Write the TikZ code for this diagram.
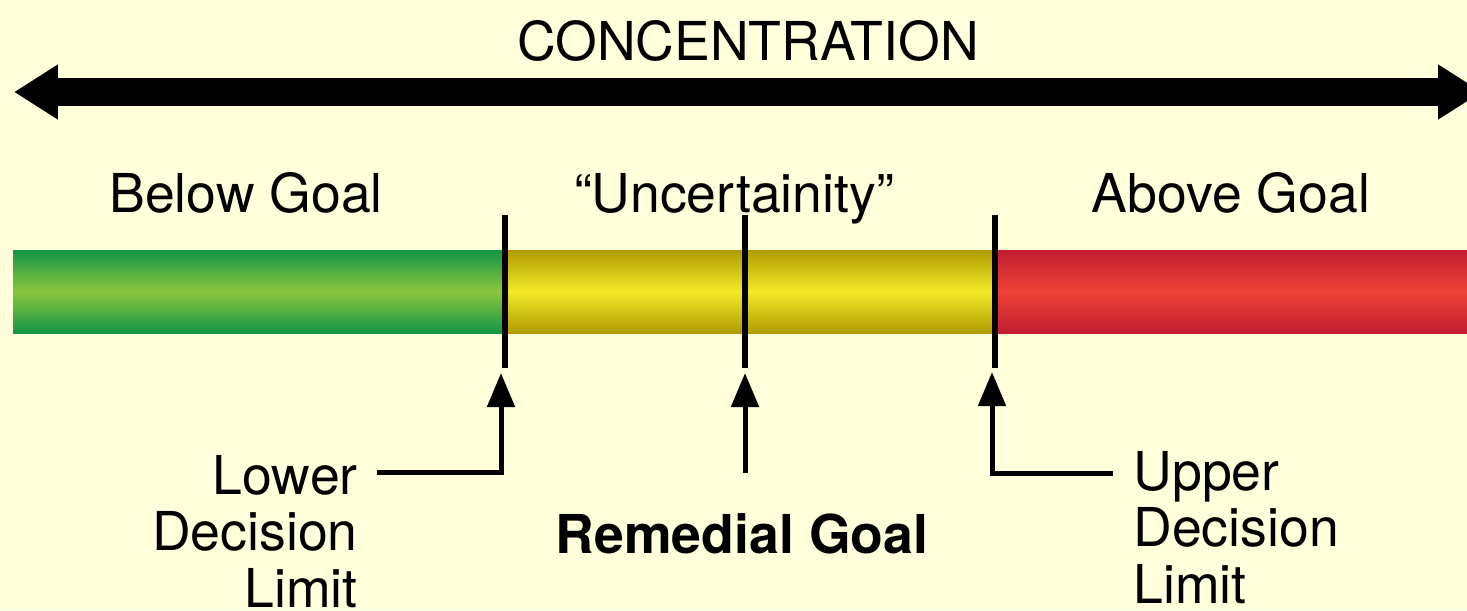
\documentclass[tikz,border=0pt]{standalone}
\usepackage{fontspec}
\setmainfont{TeX Gyre Heros}
\usetikzlibrary{arrows.meta}
\definecolor{ConcBack}{RGB}{255,255,220}
\definecolor{ConcGreenDark}{RGB}{18,150,70}
\definecolor{ConcGreenLight}{RGB}{140,198,63}
\definecolor{ConcYellowDark}{RGB}{176,156,0}
\definecolor{ConcYellowLight}{RGB}{242,234,42}
\definecolor{ConcRedDark}{RGB}{192,30,48}
\definecolor{ConcRedLight}{RGB}{239,65,54}
\tikzset{
  conc/label/.style={
    font=\fontsize{30.5}{31.9}\selectfont,
    inner sep=0pt,
    text=black
  },
  conc/boldlabel/.style={
    conc/label,
    font=\fontsize{30.5}{31.9}\selectfont\bfseries
  },
  conc/axis/.style={{Triangle[length=0.88cm,width=1.04cm]}-{Triangle[length=0.88cm,width=1.04cm]}, line width=0.56cm},
  conc/tick/.style={line width=0.12cm},
  conc/pointer/.style={-{Triangle[length=0.68cm,width=0.54cm]}, line width=0.1cm}
}

\begin{document}
\begin{tikzpicture}[x=0.02cm,y=-0.02cm]
  \fill[ConcBack] (0,0) rectangle (1467,610);
  \useasboundingbox (0,0) rectangle (1467,610);

  % concentration axis
  \node[conc/label,anchor=base] (title) at (748,60) {CONCENTRATION};
  \coordinate (axislow) at (14,92);
  \coordinate (axishigh) at (1482,92);
  \draw[conc/axis] (axislow) -- (axishigh);

  % zone labels
  \node[conc/label,anchor=base] (below) at (246,212) {Below Goal};
  \node[conc/label,anchor=base] (uncert) at (734,212) {“Uncertainity”};
  \node[conc/label,anchor=base] (above) at (1231,212) {Above Goal};

  % coloured bar
  \shade[top color=ConcGreenDark,bottom color=ConcGreenDark,middle color=ConcGreenLight] (13,250) rectangle (504,333);
  \shade[top color=ConcYellowDark,bottom color=ConcYellowDark,middle color=ConcYellowLight] (504,250) rectangle (996,333);
  \shade[top color=ConcRedDark,bottom color=ConcRedDark,middle color=ConcRedLight] (996,250) rectangle (1470,333);

  % limits
  \draw[conc/tick] (505,215) -- (505,368);
  \draw[conc/tick] (745,215) -- (745,368);
  \draw[conc/tick] (995,215) -- (995,368);

  \node[conc/label,anchor=base east,align=right] (lower) at (358,607) {Lower\\Decision\\Limit};
  \node[conc/boldlabel,anchor=base] (remedial) at (742,553) {Remedial Goal};
  \node[conc/label,anchor=base west,align=left] (upper) at (1133,603) {Upper\\Decision\\Limit};

  \coordinate (lowstart) at (377,472);
  \coordinate (lowbend) at (501,472);
  \coordinate (lowtip) at (501,373);
  \coordinate (midstart) at (745,473);
  \coordinate (midtip) at (745,373);
  \coordinate (upstart) at (1113,473);
  \coordinate (upbend) at (992,473);
  \coordinate (uptip) at (992,372);
  \draw[conc/pointer] (lowstart) -- (lowbend) -- (lowtip);
  \draw[conc/pointer] (midstart) -- (midtip);
  \draw[conc/pointer] (upstart) -- (upbend) -- (uptip);
\end{tikzpicture}
\end{document}
